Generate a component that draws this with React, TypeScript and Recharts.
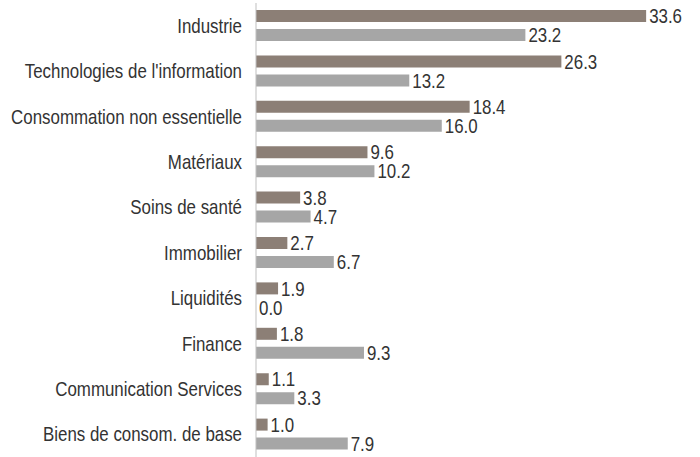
import React from "react";
import { BarChart, Bar, XAxis, YAxis, LabelList, Rectangle } from "recharts";

const categories = [
  "Industrie",
  "Technologies de l'information",
  "Consommation non essentielle",
  "Matériaux",
  "Soins de santé",
  "Immobilier",
  "Liquidités",
  "Finance",
  "Communication Services",
  "Biens de consom. de base",
];
const seriesA = [33.6, 26.3, 18.4, 9.6, 3.8, 2.7, 1.9, 1.8, 1.1, 1.0];
const seriesB = [23.2, 13.2, 16.0, 10.2, 4.7, 6.7, 0.0, 9.3, 3.3, 7.9];

const data = categories.map((name, i) => ({ name, a: seriesA[i], b: seriesB[i] }));

const FONT = "'Liberation Sans', Arial, sans-serif";
const SX = 0.845;
const TEXT_FILL = "#333";

const Tick = (props: any) => {
  const { x, y, payload } = props;
  return (
    <text
      transform={`translate(${x},${y}) scale(${SX},1)`}
      x={0}
      y={0}
      dy="0.355em"
      textAnchor="end"
      fill={TEXT_FILL}
      fontSize={20}
      fontFamily={FONT}
    >
      {payload.value}
    </text>
  );
};

const ValueLabel = (props: any) => {
  const { x, y, width, height, value } = props;
  const w = Number(width) < 1 ? 0 : Number(width);
  const tx = Number(x) + w + 3;
  const ty = Number(y) + Number(height) / 2;
  return (
    <text
      transform={`translate(${tx},${ty}) scale(${SX},1)`}
      x={0}
      y={0}
      dy="0.355em"
      textAnchor="start"
      fill={TEXT_FILL}
      fontSize={20}
      fontFamily={FONT}
    >
      {Number(value).toFixed(1)}
    </text>
  );
};

const BarShape = (props: any) => {
  if (!props.width || Math.abs(props.width) < 1) return <g />;
  return <Rectangle {...props} />;
};

export default function App() {
  return (
    <div style={{ position: "absolute", left: 0, top: 0, background: "#fff" }}>
      <BarChart
        width={700}
        height={457}
        data={data}
        layout="vertical"
        margin={{ top: 3, right: 26, bottom: 0, left: 0 }}
        barSize={12}
        barGap={7}
      >
        <XAxis type="number" domain={[0, 36]} hide />
        <YAxis
          type="category"
          dataKey="name"
          width={256}
          tickLine={false}
          tickSize={6}
          tickMargin={8}
          axisLine={{ stroke: "#bfbfbf" }}
          tick={<Tick />}
          interval={0}
        />
        <Bar dataKey="a" fill="#8c7f76" isAnimationActive={false} shape={<BarShape />}>
          <LabelList dataKey="a" content={<ValueLabel />} />
        </Bar>
        <Bar dataKey="b" fill="#a6a6a6" isAnimationActive={false} minPointSize={0.5} shape={<BarShape />}>
          <LabelList dataKey="b" content={<ValueLabel />} />
        </Bar>
      </BarChart>
    </div>
  );
}
